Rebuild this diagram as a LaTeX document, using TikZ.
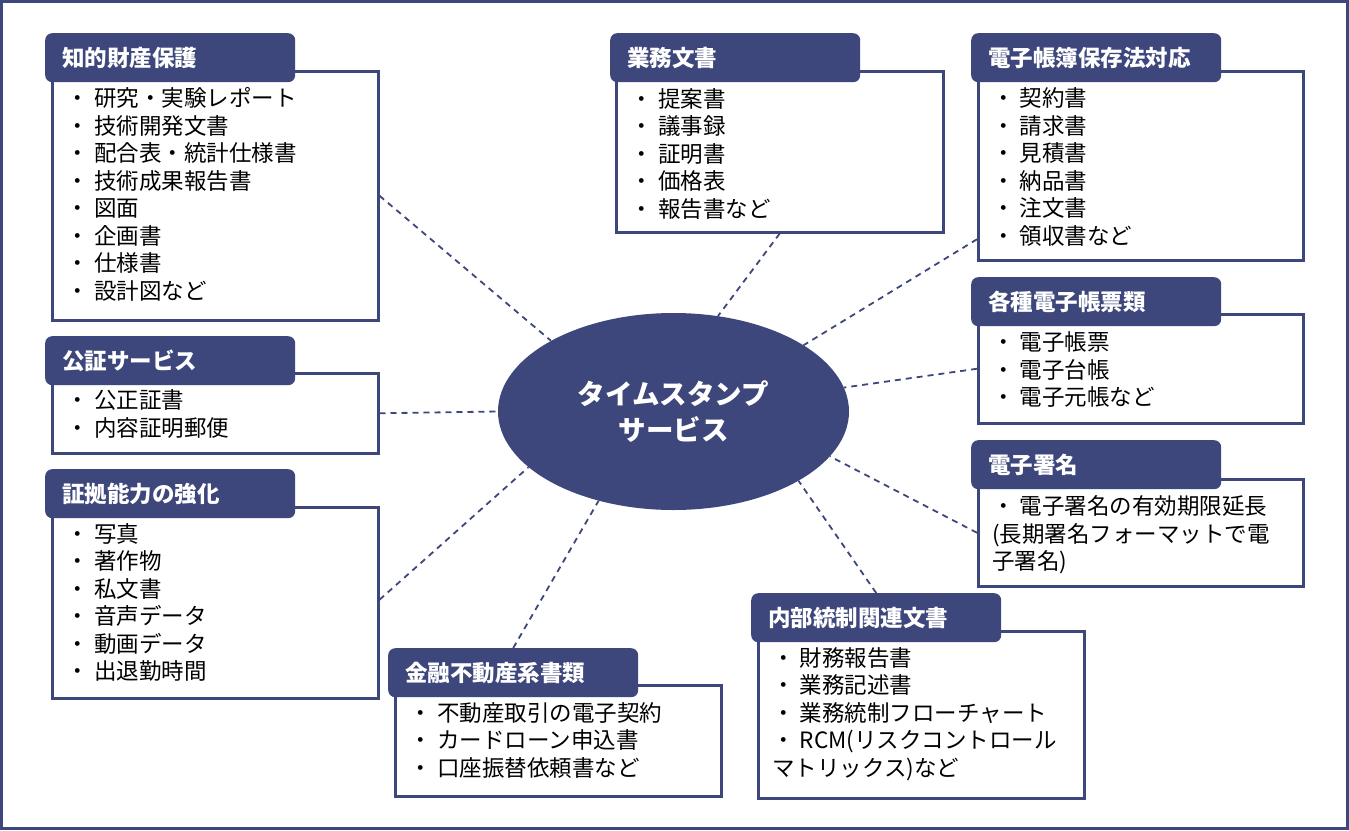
\documentclass[tikz,border=0pt]{standalone}
\usepackage{fontspec}
\setmainfont{Noto Sans CJK JP}
\usetikzlibrary{shapes.geometric,calc}
\definecolor{navy}{RGB}{62,71,124}
\begin{document}
\begin{tikzpicture}[x=1pt,y=-1pt,
 bodybox/.style={draw=navy,line width=2.5pt,fill=white,anchor=north west,inner sep=0pt},
 hdr/.style={fill=navy,rounded corners=7pt,anchor=north west,text=white,font=\fontsize{22.5}{27}\selectfont\bfseries,text width=216pt,inner xsep=17pt,inner ysep=0pt,minimum height=49pt,align=left},
 items/.style={anchor=north west,inner sep=0pt,align=left,font=\fontsize{22.5}{27.5}\selectfont},
 link/.style={draw=navy,line width=1.8pt,dash pattern=on 6pt off 5pt}]
\useasboundingbox (0,0) rectangle (1349,830);
\draw[navy,line width=3pt] (1.5,1.5) rectangle (1347.5,828);

% central ellipse
\node[ellipse,fill=navy,minimum width=351pt,minimum height=197pt,inner sep=0pt,text=white,align=center,font=\fontsize{27.5}{36}\selectfont\bfseries] (ell) at (673.5,411.5) {タイムスタンプ\\サービス};

% 知的財産保護
\node[bodybox,minimum width=326pt,minimum height=249pt] (b1) at (51,70) {};
\node[hdr] (h1) at (45,33) {知的財産保護};
\node[items] (t1) at ([shift={(15.5pt,-17.5pt)}]b1.north west) {\strut・ 研究・実験レポート\\・ 技術開発文書\\・ 配合表・統計仕様書\\・ 技術成果報告書\\・ 図面\\・ 企画書\\・ 仕様書\\・ 設計図など};

% 公証サービス
\node[bodybox,minimum width=326pt,minimum height=80pt] (b2) at (51,372) {};
\node[hdr] (h2) at (45,336) {公証サービス};
\node[items] (t2) at ([shift={(15.5pt,-17.5pt)}]b2.north west) {\strut・ 公正証書\\・ 内容証明郵便};

% 証拠能力の強化
\node[bodybox,minimum width=326pt,minimum height=191pt] (b3) at (51,506) {};
\node[hdr] (h3) at (45,469) {証拠能力の強化};
\node[items] (t3) at ([shift={(15.5pt,-17pt)}]b3.north west) {\strut・ 写真\\・ 著作物\\・ 私文書\\・ 音声データ\\・ 動画データ\\・ 出退勤時間};

% 業務文書
\node[bodybox,minimum width=327pt,minimum height=161pt] (b4) at (615,70) {};
\node[hdr] (h4) at (610,33) {業務文書};
\node[items] (t4) at ([shift={(15.5pt,-18pt)}]b4.north west) {\strut・ 提案書\\・ 議事録\\・ 証明書\\・ 価格表\\・ 報告書など};

% 電子帳簿保存法対応
\node[bodybox,minimum width=325pt,minimum height=189pt] (b5) at (977,70) {};
\node[hdr] (h5) at (971,33) {電子帳簿保存法対応};
\node[items] (t5) at ([shift={(15pt,-17.5pt)}]b5.north west) {\strut・ 契約書\\・ 請求書\\・ 見積書\\・ 納品書\\・ 注文書\\・ 領収書など};

% 各種電子帳票類
\node[bodybox,minimum width=325pt,minimum height=109pt] (b6) at (977,313) {};
\node[hdr] (h6) at (971,277) {各種電子帳票類};
\node[items] (t6) at ([shift={(15pt,-18.5pt)}]b6.north west) {\strut・ 電子帳票\\・ 電子台帳\\・ 電子元帳など};

% 電子署名
\node[bodybox,minimum width=325pt,minimum height=107pt] (b7) at (977,478) {};
\node[hdr] (h7) at (971,440) {電子署名};
\node[items] (t7) at ([shift={(15pt,-17.5pt)}]b7.north west) {\strut・ 電子署名の有効期限延長\\(長期署名フォーマットで電\\子署名)};

% 内部統制関連文書
\node[bodybox,minimum width=326pt,minimum height=167pt] (b8) at (757,630) {};
\node[hdr] (h8) at (751,593) {内部統制関連文書};
\node[items] (t8) at ([shift={(15pt,-17pt)}]b8.north west) {\strut・ 財務報告書\\・ 業務記述書\\・ 業務統制フローチャート\\・ RCM(リスクコントロール\\マトリックス)など};

% 金融不動産系書類
\node[bodybox,minimum width=326pt,minimum height=111pt] (b9) at (394,684) {};
\node[hdr] (h9) at (388,648) {金融不動産系書類};
\node[items] (t9) at ([shift={(15.5pt,-18pt)}]b9.north west) {\strut・ 不動産取引の電子契約\\・ カードローン申込書\\・ 口座振替依頼書など};

% connectors
\draw[link] (b1.east) -- (ell.150);
\draw[link] (b2.east) -- (ell.180);
\draw[link] ([yshift=3pt]b3.east) -- (ell.201);
\draw[link] (h9.north) -- (ell.230);
\draw[link] (b4.south) -- (ell.65);
\draw[link] ([yshift=-73.5pt]b5.west) -- (ell.27.5);
\draw[link] (b6.west) -- (ell.8.5);
\draw[link] (b7.west) -- (ell.-16.4);
\draw[link] (h8.north) -- (ell.-29);
\end{tikzpicture}
\end{document}
